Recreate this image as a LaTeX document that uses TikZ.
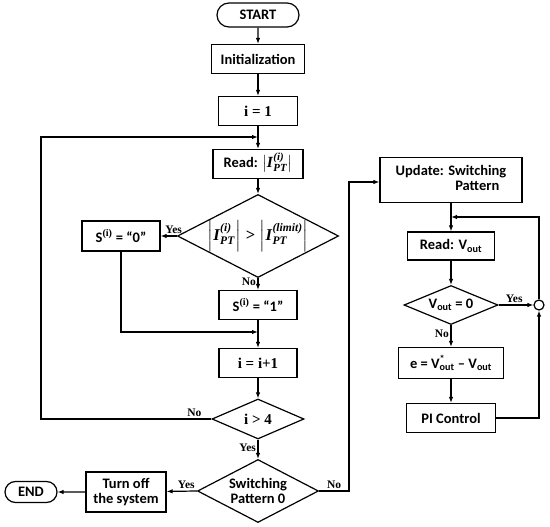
\documentclass[tikz,border=0pt]{standalone}
\usepackage{amsmath}
\usepackage{fontspec}
\setmainfont{Liberation Serif}
\newfontfamily\boxfont{Carlito}
\usetikzlibrary{arrows.meta,shapes.misc,shapes.geometric}
\newcommand{\Vout}{V\textsubscript{out}}
\newcommand{\Sup}{S\textsuperscript{\rmfamily(i)}}
\newcommand{\bi}[1]{\textbf{\textit{\rmfamily #1}}}
\newcommand{\IPT}[1]{\left|\bi{I}^{\bi{(#1)}}_{\bi{PT}}\right|}
\newcommand{\mathsz}{\fontsize{16.5}{17}\selectfont}
\newcommand{\readtext}{{\fontsize{15.5}{16}\selectfont$\bigl|\bi{I}^{\bi{(i)}}_{\bi{PT}}\bigr|$}}
\newcommand{\cmptext}{{\mathsz$\IPT{i}\mathrel{\text{\rmfamily\bfseries >}}\IPT{limit}$}}

\begin{document}
\begin{tikzpicture}[x=1pt,y=-1pt,line width=1.2pt,>={Latex[length=6pt,width=4.5pt]},
  box/.style={draw,rectangle,inner sep=0pt,align=center,font=\boxfont\bfseries\fontsize{14.5}{15}\selectfont},
  term/.style={box,rounded rectangle},
  dec/.style={box,diamond},
  lbl/.style={font=\bfseries\fontsize{11.5}{12}\selectfont,inner sep=1.5pt},
  ser/.style={font=\bfseries\fontsize{15}{16}\selectfont}]
  \useasboundingbox (0,0) rectangle (550,527);
  % left column
  \node[term,minimum width=82pt,minimum height=24pt] (start) at (258,15) {START};
  \node[box,minimum width=93pt,minimum height=29pt] (init) at (258,59) {Initialization};
  \node[box,ser,minimum width=79pt,minimum height=29pt] (i1) at (258,111) {i = 1};
  \node[box,minimum width=90pt,minimum height=29pt,text height=10pt,text depth=3pt] (read) at (258,164) {Read: \readtext};
  \node[dec,minimum width=140pt,minimum height=72pt,shape aspect=1.94] (cmp) at (258,236) {\cmptext};
  \node[box,minimum width=78pt,minimum height=30pt] (s0) at (121,236) {\Sup{} = “0”};
  \node[box,minimum width=78pt,minimum height=29pt] (s1) at (258,305) {\Sup{} = “1”};
  \node[box,ser,minimum width=78pt,minimum height=29pt] (inc) at (258,363) {i = i+1};
  \node[dec,ser,minimum width=92pt,minimum height=40pt,shape aspect=2.3] (gt4) at (258,419) {i > 4};
  \node[dec,minimum width=121pt,minimum height=63pt,shape aspect=1.92] (sw) at (258,491) {Switching\\Pattern 0};
  \node[box,minimum width=80pt,minimum height=40pt] (off) at (126,492) {Turn off\\the system};
  \node[term,minimum width=52pt,minimum height=21pt] (end) at (31,492) {END};
  % right column
  \node[box,minimum width=142pt,minimum height=45pt] (upd) at (451,180) {Update: \begin{tabular}[t]{@{}c@{}}Switching\\Pattern\end{tabular}};
  \node[box,minimum width=87pt,minimum height=28pt] (readv) at (451,246) {Read: \Vout};
  \node[dec,minimum width=94pt,minimum height=39pt,shape aspect=2.4] (vz) at (451,305) {\Vout{} = 0};
  \node[draw,circle,minimum size=10pt,inner sep=0pt] (circ) at (539,305) {};
  \node[box,minimum width=105pt,minimum height=31pt] (err) at (451,363) {e = V\rlap{\textsuperscript{*}}\textsubscript{out} \textendash{} \Vout};
  \node[box,minimum width=89pt,minimum height=29pt] (pi) at (451,418) {PI Control};
  \coordinate (loopL) at (41,137);
  \coordinate (loopin) at (258,137);
  \coordinate (merge) at (258,332);
  \coordinate (swR) at (349,182);
  \coordinate (j) at (451,217);

  \draw[->] (start) -- (init);
  \draw[->] (init) -- (i1);
  \draw[->] (i1) -- (read);
  \draw[->] (read) -- (cmp);
  \draw[->] (cmp.west) -- node[lbl,above,pos=0.2]{Yes} (s0);
  \draw[->] (cmp.south) -- node[lbl,left,pos=0.3]{No} (s1);
  \draw[->] (s1) -- (inc);
  \draw[->] (s0.south) |- (merge);
  \draw[->] (inc) -- (gt4);
  \draw[->] (gt4.west) -- node[lbl,above,pos=0.1]{No} (gt4.west -| loopL) -- (loopL) -- (loopin);
  \draw[->] (gt4.south) -- node[lbl,left,pos=0.4]{Yes} (sw.north);
  \draw[->] (sw.west) -- node[lbl,above,pos=0.35]{Yes} (off);
  \draw[->] (off) -- (end);
  \draw[->] (sw.east) -- node[lbl,above,pos=0.5]{No} (sw.east -| swR) -- (swR) -- (swR -| upd.west);
  \draw[->] (upd) -- (readv);
  \draw[->] (readv) -- (vz);
  \draw[->] (vz.east) -- node[lbl,above,pos=0.45]{Yes} (circ);
  \draw[->] (vz.south) -- node[lbl,left,pos=0.4]{No} (err);
  \draw[->] (err) -- (pi);
  \draw[->] (pi.east) -| (circ.south);
  \draw[->] (circ.north) |- (j);
\end{tikzpicture}
\end{document}
